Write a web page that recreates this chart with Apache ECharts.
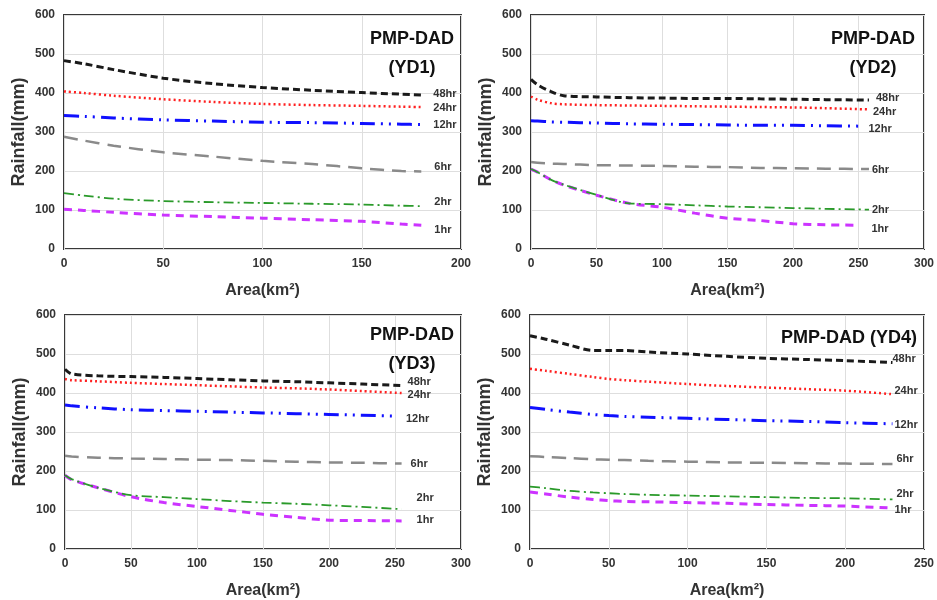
<!DOCTYPE html>
<html><head><meta charset="utf-8">
<script src="https://cdn.jsdelivr.net/npm/echarts@6/dist/echarts.min.js"></script>
<style>html,body{margin:0;padding:0;background:#fff}#c{width:937px;height:600px}</style>
</head><body><div id="c"></div>
<script>
// ---------- DATA ----------
const seriesNames = ['48hr','24hr','12hr','6hr','2hr','1hr'];
const panelTitles = ['PMP-DAD\n(YD1)','PMP-DAD\n(YD2)','PMP-DAD\n(YD3)','PMP-DAD (YD4)'];
const xMax = [200, 300, 300, 250];
const yTicks = [0,100,200,300,400,500,600];

// Panel 1 (YD1)
const yd1X   = [0,10,25,50,75,100,125,150,170,180];
const yd1_48 = [483,475,460,438,424,414,407,401,397,395];
const yd1_24 = [404,400,393,384,377,372,369,367,365,364];
const yd1_12 = [342,340,336,331,328,325,324,322,320,319];
const yd1_6  = [288,278,265,248,237,226,218,207,200,199];
const yd1_2  = [143,137,129,123,120,118,116,114,111,110];
const yd1_1  = [102,99,94,87,83,79,75,71,64,61];

// Panel 2 (YD2)
const yd2X   = [0,5,15,25,50,75,100,125,150,175,200,225,258];
const yd2Xb  = [0,5,15,25,50,75,100,125,150,175,200,225,250];
const yd2_48 = [435,421,404,393,390,388,387,386,386,385,384,383,382];
const yd2_24 = [391,383,374,371,369,368,367,366,365,364,363,361,358];
const yd2_12 = [329,328,326,325,323,321,320,319,318,317,317,316,315];
const yd2_6  = [223,221,219,218,215,214,213,211,210,208,207,206,205];
const yd2_2  = [205,197,178,165,139,117,115,112,109,107,105,103,101];
const yd2_1  = [205,197,178,164,138,117,107,92,79,73,65,62,61];

// Panel 3 (YD3)
const yd3X   = [0,5,25,50,75,100,125,150,175,200,225,255];
const yd3Xb  = [0,5,25,50,75,100,125,150,175,200,225,250];
const yd3_48 = [461,449,444,442,440,437,434,431,429,426,423,419];
const yd3_24 = [436,433,430,426,423,420,417,414,412,409,405,400];
const yd3_12 = [369,367,362,357,355,353,351,349,347,345,343,341];
const yd3_6  = [239,237,234,232,231,229,228,226,224,222,221,219];
const yd3_2  = [189,179,157,138,133,128,123,119,116,112,108,102];
const yd3_1  = [189,178,157,134,119,109,99,89,81,74,73,72];

// Panel 4 (YD4)
const yd4X   = [0,10,25,40,50,60,75,100,125,150,175,200,230];
const yd4_48 = [547,538,523,509,509,509,505,500,494,489,486,483,478];
const yd4_24 = [462,457,449,441,436,433,429,423,418,414,410,406,397];
const yd4_12 = [363,358,351,345,342,340,338,335,332,329,327,324,321];
const yd4_6  = [238,236,233,230,229,228,226,224,222,221,220,219,218];
const yd4_2  = [160,156,149,145,143,141,139,137,135,133,131,130,127];
const yd4_1  = [146,141,133,127,124,122,121,119,117,114,112,110,105];

const panels = [
  {xs:[yd1X,yd1X,yd1X,yd1X,yd1X,yd1X], ys:[yd1_48,yd1_24,yd1_12,yd1_6,yd1_2,yd1_1]},
  {xs:[yd2X,yd2X,yd2Xb,yd2X,yd2X,yd2Xb], ys:[yd2_48,yd2_24,yd2_12,yd2_6,yd2_2,yd2_1]},
  {xs:[yd3X,yd3X,yd3Xb,yd3X,yd3X,yd3X], ys:[yd3_48,yd3_24,yd3_12,yd3_6,yd3_2,yd3_1]},
  {xs:[yd4X,yd4X,yd4X,yd4X,yd4X,yd4X], ys:[yd4_48,yd4_24,yd4_12,yd4_6,yd4_2,yd4_1]}
];

// ---------- STYLE ----------
const FONT = '"Liberation Sans", Arial, sans-serif';
const grids = [
  {left:64, top:15, width:397, height:234},
  {left:531, top:15, width:397, height:234},
  {left:65, top:315, width:396, height:235},
  {left:530, top:315, width:397, height:235}
];
const lineStyles = [
  {color:'#1a1a1a', width:3, type:[7,4]},
  {color:'#ff2020', width:2.5, type:[2,3]},
  {color:'#1010ff', width:3, type:[15,6,2,6,2,6]},
  {color:'#8a8a8a', width:2.5, type:[14,8]},
  {color:'#2a9a2a', width:1.8, type:[10,4,2,4]},
  {color:'#cc33ff', width:3, type:[8,6]}
];
const labelOffsets = [
  [[12,-1],[12,1],[12,0],[13,-4],[13,-4],[13,5]],
  [[7,-2],[4,3],[10,3],[3,1],[3,0],[13,4]],
  [[6,-4],[6,2],[11,3],[9,0],[15,-11],[15,-1]],
  [[0,-4],[2,-3],[2,1],[4,-5],[4,-6],[2,2]]
];
const titlePos = [[412,54],[873,54],[412,350],[849,338]];

const option = {
  animation:false,
  backgroundColor:'#fff',
  grid: grids.map(g => Object.assign({show:true, borderColor:'#383838', borderWidth:2, backgroundColor:'transparent'}, g)),
  xAxis: grids.map((g,i) => ({
    gridIndex:i, type:'value', min:0, max:xMax[i], interval:50,
    name:'Area(km²)', nameLocation:'middle', nameGap:34,
    nameTextStyle:{fontFamily:FONT, fontWeight:'bold', fontSize:16, color:'#333'},
    axisLine:{show:false}, axisTick:{show:false},
    axisLabel:{fontFamily:FONT, fontWeight:'bold', fontSize:12, color:'#333', margin:9},
    splitLine:{show:true, lineStyle:{color:'#dedede', width:1}}
  })),
  yAxis: grids.map((g,i) => ({
    gridIndex:i, type:'value', min:yTicks[0], max:yTicks[yTicks.length-1], interval:100,
    name:'Rainfall(mm)', nameLocation:'middle', nameGap:36,
    nameTextStyle:{fontFamily:FONT, fontWeight:'bold', fontSize:18, color:'#333'},
    axisLine:{show:false}, axisTick:{show:false},
    axisLabel:{fontFamily:FONT, fontWeight:'bold', fontSize:12, color:'#333', margin:9},
    splitLine:{show:true, lineStyle:{color:'#dedede', width:1}}
  })),
  series: [],
  graphic: panelTitles.map((t,i) => ({
    type:'text', x:titlePos[i][0], y:titlePos[i][1], z:100,
    style:{text:t, font:'bold 18px '+FONT, fill:'#111', align:'center', verticalAlign:'middle', lineHeight:29}
  }))
};

panels.forEach((p, pi) => {
  seriesNames.forEach((name, si) => {
    option.series.push({
      type:'line', name:name, xAxisIndex:pi, yAxisIndex:pi,
      data: p.xs[si].map((x,k) => [x, p.ys[si][k]]),
      smooth:0.3, showSymbol:false, symbol:'none',
      lineStyle: lineStyles[si],
      endLabel:{show:true, formatter:name, distance:0, offset:labelOffsets[pi][si],
        fontFamily:FONT, fontWeight:'bold', fontSize:11, color:'#333'},
      z: 10 - si
    });
  });
});

const chart = echarts.init(document.getElementById('c'), null, {renderer:'canvas'});
chart.setOption(option);
</script>
</body></html>
